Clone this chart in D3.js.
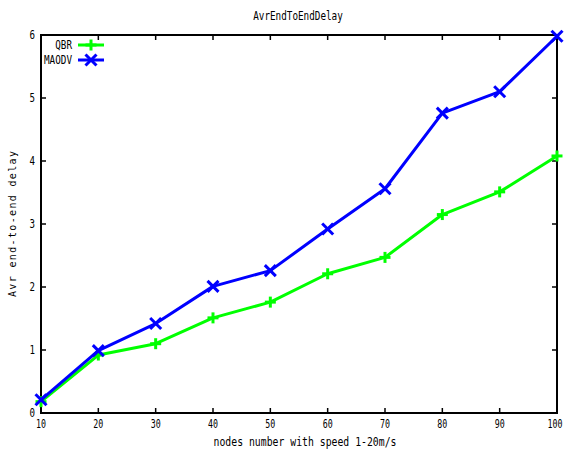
<!DOCTYPE html>
<html>
<head>
<meta charset="utf-8">
<title>AvrEndToEndDelay</title>
<style>
    body { margin: 0; background: #fff; }
    svg text { font-family: "DejaVu Sans Mono", monospace; fill: #000; }
</style>
</head>
<body>
<div id="chart"></div>
<script src="https://d3js.org/d3.v7.min.js"></script>
<script>
// data
const nodes = [10, 20, 30, 40, 50, 60, 70, 80, 90, 100];
const qbr   = [0.18, 0.92, 1.10, 1.51, 1.76, 2.21, 2.47, 3.15, 3.51, 4.08];
const maodv = [0.21, 0.99, 1.42, 2.01, 2.26, 2.92, 3.56, 4.76, 5.10, 5.98];
const xTicks = [10, 20, 30, 40, 50, 60, 70, 80, 90, 100];
const yTicks = [0, 1, 2, 3, 4, 5, 6];

const series = [
    { name: "QBR", values: qbr, color: "#00ff00", marker: "plus" },
    { name: "MAODV", values: maodv, color: "#0000ff", marker: "cross" }
];

const width = 568, height = 455;
const margin = { left: 41, right: 11, top: 35, bottom: 42 };

const svg = d3.select("#chart").append("svg")
    .attr("width", width)
    .attr("height", height);

const x = d3.scaleLinear().domain([10, 100]).range([margin.left, width - margin.right]);
const y = d3.scaleLinear().domain([0, 6]).range([height - margin.bottom, margin.top]);

const x0 = x.range()[0], x1 = x.range()[1];
const y0 = y.range()[0], y1 = y.range()[1];
const tickLen = 5;

// narrow, tall text like the gnuplot bitmap font
function label(parent, str, px, py, anchor, charW, adjust) {
    return parent.append("text")
        .attr("x", px).attr("y", py)
        .attr("text-anchor", anchor)
        .attr("textLength", String(str).length * charW)
        .attr("lengthAdjust", adjust || "spacingAndGlyphs")
        .style("font-size", "12px")
        .text(str);
}

// inward ticks on all four sides
const ticks = svg.append("g").attr("stroke", "#000").attr("stroke-width", 1.5);
xTicks.forEach(t => {
    ticks.append("line").attr("x1", x(t)).attr("x2", x(t)).attr("y1", y0).attr("y2", y0 - tickLen);
    ticks.append("line").attr("x1", x(t)).attr("x2", x(t)).attr("y1", y1).attr("y2", y1 + tickLen);
});
yTicks.forEach(t => {
    ticks.append("line").attr("x1", x0).attr("x2", x0 + tickLen).attr("y1", y(t)).attr("y2", y(t));
    ticks.append("line").attr("x1", x1).attr("x2", x1 - tickLen).attr("y1", y(t)).attr("y2", y(t));
});

// tick labels
const xl = svg.append("g");
xTicks.forEach(t => label(xl, t, t === 100 ? x(t) - 2 : x(t), y0 + 15, "middle", 5));
const yl = svg.append("g");
yTicks.forEach(t => label(yl, t, x0 - 6, y(t) + 4, "end", 5.5));

// frame
svg.append("rect")
    .attr("x", x0).attr("y", y1)
    .attr("width", x1 - x0).attr("height", y0 - y1)
    .attr("fill", "none")
    .attr("stroke", "#000")
    .attr("stroke-width", 2);

// titles
label(svg, "AvrEndToEndDelay", 298, 20, "middle", 5.6);
label(svg, "nodes number with speed 1-20m/s", 305, 446, "middle", 5.9);
label(svg, "Avr end-to-end delay", 0, 0, "middle", 7.3, "spacing")
    .style("font-size", "10px")
    .attr("transform", `translate(16,${(y0 + y1) / 2}) rotate(-90)`);

function drawMarker(g, type, cx, cy, color) {
    const s = 5.5;
    const m = g.append("g").attr("stroke", color).attr("stroke-width", 3);
    if (type === "plus") {
        m.append("line").attr("x1", cx - s).attr("x2", cx + s).attr("y1", cy).attr("y2", cy);
        m.append("line").attr("x1", cx).attr("x2", cx).attr("y1", cy - s).attr("y2", cy + s);
    } else {
        m.append("line").attr("x1", cx - s).attr("x2", cx + s).attr("y1", cy - s).attr("y2", cy + s);
        m.append("line").attr("x1", cx - s).attr("x2", cx + s).attr("y1", cy + s).attr("y2", cy - s);
    }
}

const line = d3.line().x(d => x(d[0])).y(d => y(d[1]));

series.forEach(s => {
    const pts = nodes.map((n, i) => [n, s.values[i]]);
    const g = svg.append("g");
    g.append("path")
        .datum(pts)
        .attr("d", line)
        .attr("fill", "none")
        .attr("stroke", s.color)
        .attr("stroke-width", 3)
        .attr("stroke-linejoin", "round");
    pts.forEach(p => drawMarker(g, s.marker, x(p[0]), y(p[1]), s.color));
});

// legend
series.forEach((s, i) => {
    const ly = 45 + i * 15;
    label(svg, s.name, 72, ly + 4, "end", 5.6);
    svg.append("line")
        .attr("x1", 78).attr("x2", 104)
        .attr("y1", ly).attr("y2", ly)
        .attr("stroke", s.color)
        .attr("stroke-width", 3);
    drawMarker(svg, s.marker, 91, ly, s.color);
});
</script>
</body>
</html>
